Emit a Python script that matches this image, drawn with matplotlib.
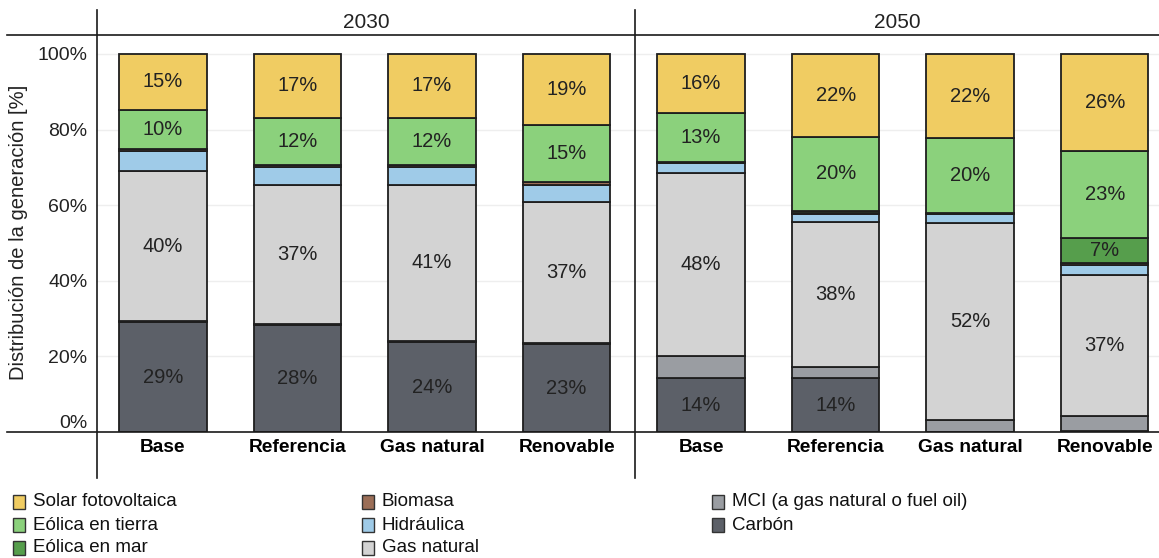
import matplotlib.pyplot as plt
from matplotlib.lines import Line2D
from matplotlib.patches import Rectangle

plt.rcParams['font.family'] = ['Liberation Sans', 'DejaVu Sans']

# Data (percent of generation), stacked bottom -> top
escenarios = ['Base', 'Referencia', 'Gas natural', 'Renovable']
anios = ['2030', '2050']

tecnologias = ['Carbón', 'MCI (a gas natural o fuel oil)', 'Gas natural', 'Hidráulica',
               'Biomasa', 'Eólica en mar', 'Eólica en tierra', 'Solar fotovoltaica']
colores = ['#5c6068', '#9a9da2', '#d3d3d3', '#9fcbe8',
           '#9b6e57', '#569e4c', '#8bd17c', '#f0cc62']

# columns: 2030 Base, Ref, Gas, Ren, 2050 Base, Ref, Gas, Ren
carbon = [29.0, 28.3, 23.8, 23.2, 14.2, 14.2, 0.0, 0.3]
mci = [0.3, 0.3, 0.3, 0.3, 6.0, 3.1, 3.2, 4.0]
gas = [39.6, 36.7, 41.2, 37.2, 48.4, 38.2, 52.0, 37.2]
hidraulica = [5.4, 4.7, 4.7, 4.6, 2.5, 2.2, 2.5, 2.7]
biomasa = [0.6, 0.7, 0.7, 0.8, 0.4, 0.3, 0.3, 0.6]
eolica_mar = [0.0, 0.0, 0.0, 0.0, 0.0, 0.5, 0.0, 6.6]
eolica_tierra = [10.3, 12.4, 12.4, 15.1, 12.9, 19.6, 19.7, 23.0]
solar = [14.8, 16.9, 16.9, 18.8, 15.6, 21.9, 22.3, 25.6]

series = [carbon, mci, gas, hidraulica, biomasa, eolica_mar, eolica_tierra, solar]

fig = plt.figure(figsize=(11.59, 5.58), dpi=100)
W, H = 1159, 558


def fx(px):
    return px / W


def fy(py):
    return 1 - py / H


# axes spans x=-0.5..7.5 (right end falls slightly outside the figure)
ax = fig.add_axes([fx(95.7), fy(432), fx(1172 - 95.7), fy(35) - fy(432)])

x = list(range(8))
bottom = [0.0] * 8
for vals, col in zip(series, colores):
    ax.bar(x, vals, width=0.65, bottom=bottom, color=col,
           edgecolor='#1e1e1e', linewidth=1.3, zorder=3)
    for i, v in enumerate(vals):
        if v >= 6.5:
            ax.text(i, bottom[i] + v / 2, f'{round(v)}%', ha='center', va='center',
                    fontsize=14.5, color='#222222', zorder=4)
    bottom = [b + v for b, v in zip(bottom, vals)]

ax.set_xlim(-0.5, 7.5)
ax.set_ylim(0, 105)
ax.set_yticks([0, 20, 40, 60, 80, 100])
ax.set_yticklabels(['0%', '20%', '40%', '60%', '80%', '100%'], fontsize=14, color='#222222')
ax.get_yticklabels()[0].set_va('bottom')
ax.tick_params(axis='y', length=0, pad=6)
ax.set_xticks(x)
ax.set_xticklabels(escenarios * 2, fontsize=13.8, fontweight='bold')
ax.tick_params(axis='x', length=0, pad=5)
ax.grid(axis='y', color='#eeeeee', linewidth=1, zorder=0)
for s in ax.spines.values():
    s.set_visible(False)

# table-like frame lines
for px in [97, 635]:
    fig.add_artist(Line2D([fx(px), fx(px)], [fy(10), fy(478)], color='#1a1a1a', linewidth=1.2))
for py in [35, 432]:
    fig.add_artist(Line2D([fx(7), 1], [fy(py), fy(py)], color='#1a1a1a', linewidth=1.2))

fig.text(fx(366), fy(22), anios[0], ha='center', va='center', fontsize=15, color='#222222')
fig.text(fx(897), fy(22), anios[1], ha='center', va='center', fontsize=15, color='#222222')

fig.text(fx(19), fy(232), 'Distribución de la generación [%]', rotation=90,
         ha='center', va='center', fontsize=14.5, color='#222222')

# legend, three columns
orden = [7, 6, 5, 4, 3, 2, 1, 0]
col_x = [13, 362, 712]
row_y = [502, 525, 548]
for k, idx in enumerate(orden):
    c, r = divmod(k, 3)
    x0, y0 = col_x[c], row_y[r]
    fig.add_artist(Rectangle((fx(x0), fy(y0 + 7)), fx(12), fy(0) - fy(14),
                             facecolor=colores[idx], edgecolor='#333333', linewidth=1))
    fig.text(fx(x0 + 20), fy(y0), tecnologias[idx], ha='left', va='center',
             fontsize=13.5, color='#111111')

fig.savefig('out.png', dpi=100)
